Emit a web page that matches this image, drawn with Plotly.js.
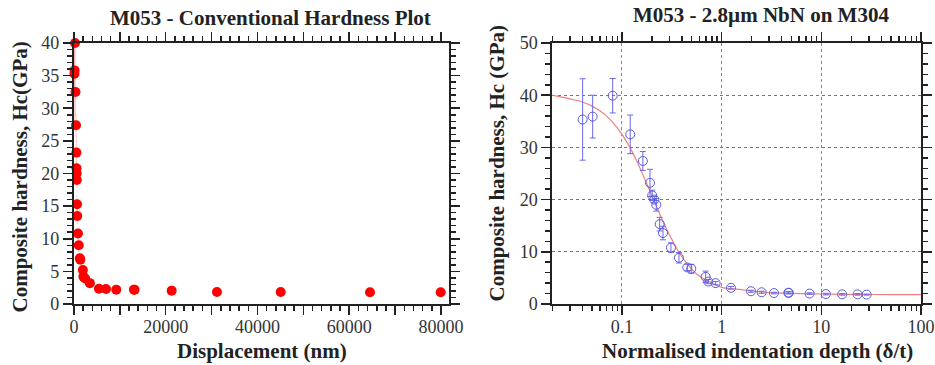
<!DOCTYPE html>
<html><head><meta charset="utf-8">
<script src="https://cdn.plot.ly/plotly-3.0.1.min.js"></script>
<style>html,body{margin:0;padding:0;background:#fff}#plot{width:935px;height:365px}</style>
</head><body><div id="plot"></div>
<script>
// Left panel: displacement (nm) vs composite hardness
const dispNm = [110, 140, 230, 340, 450, 530, 560, 590, 620, 670, 720, 870, 1040, 1270, 1390, 1940, 2060, 2440, 3470, 5450, 6980, 9220, 13080, 13200, 21300, 31170, 45060, 64530, 79940];
const hcLeft = [35.3, 35.8, 40.0, 32.5, 27.4, 23.2, 20.8, 20.0, 19.0, 15.3, 13.5, 10.8, 9.0, 7.0, 6.8, 5.2, 4.2, 3.9, 3.2, 2.35, 2.3, 2.2, 2.2, 2.2, 2.05, 1.85, 1.85, 1.8, 1.8];
// Right panel: normalised depth vs composite hardness with error bars
const normDepth = [0.0403, 0.0508, 0.0807, 0.121, 0.162, 0.191, 0.201, 0.211, 0.221, 0.239, 0.258, 0.31, 0.373, 0.452, 0.496, 0.691, 0.734, 0.87, 1.24, 1.97, 2.52, 3.35, 4.66, 4.72, 7.63, 11.1, 16.2, 23.1, 28.5];
const hcRight = [35.35, 35.9, 39.9, 32.5, 27.4, 23.2, 20.8, 20.0, 19.0, 15.3, 13.6, 10.8, 8.85, 7.0, 6.75, 5.2, 4.3, 4.0, 3.1, 2.45, 2.25, 2.1, 2.15, 2.15, 2.0, 1.9, 1.85, 1.85, 1.8];
const hcErr = [7.8, 4.1, 3.3, 3.7, 1.8, 2.6, 1.0, 0.6, 1.2, 1.3, 1.3, 0.9, 1.0, 0.6, 0.85, 1.1, 0.4, 0.3, 0.25, 0.2, 0.2, 0.15, 0.2, 0.2, 0.15, 0.15, 0.15, 0.15, 0.1];
// Fitted model curve
const fitX = [0.02, 0.03, 0.04, 0.05, 0.06, 0.07, 0.08, 0.1, 0.12, 0.14, 0.16, 0.18, 0.2, 0.23, 0.26, 0.3, 0.35, 0.4, 0.5, 0.6, 0.8, 1, 1.5, 2, 3, 5, 10, 20, 50, 100];
const fitY = [40.0, 39.3, 38.7, 37.9, 37.0, 36.0, 34.9, 32.5, 30.0, 27.5, 25.0, 22.8, 20.7, 18.0, 15.7, 13.2, 10.8, 9.0, 6.7, 5.3, 4.0, 3.2, 2.8, 2.5, 2.2, 2.05, 1.92, 1.85, 1.8, 1.8];
const leftTicks = [0, 10000, 20000, 30000, 40000, 50000, 60000, 70000, 80000];
const leftTickText = ['0', '', '20000', '', '40000', '', '60000', '', '80000'];

const serif = 'Liberation Serif';
const ink = '#222';
const tickFont = {family: serif, size: 18, color: '#333'};

const traces = [
  {x: dispNm, y: hcLeft, xaxis: 'x', yaxis: 'y', type: 'scatter', mode: 'markers',
   marker: {color: '#ff0000', size: 10}, cliponaxis: false,
   error_y: {type: 'data', array: hcErr, color: 'rgba(240,120,120,0.35)', thickness: 1, width: 0}},
  {x: fitX, y: fitY, xaxis: 'x2', yaxis: 'y2', type: 'scatter', mode: 'lines',
   line: {color: '#f08080', width: 1.2, shape: 'spline'}},
  {x: normDepth, y: hcRight, xaxis: 'x2', yaxis: 'y2', type: 'scatter', mode: 'markers',
   marker: {symbol: 'circle-open', color: '#5a5ae0', size: 9, line: {width: 1}},
   error_y: {type: 'data', array: hcErr, color: '#6a6ae6', thickness: 1, width: 3}}
];

const axBase = {showline: true, linecolor: ink, linewidth: 2, mirror: 'ticks', ticks: 'outside',
  tickcolor: ink, tickwidth: 1.5, ticklen: 9, tickfont: tickFont, zeroline: false, fixedrange: true};

const layout = {
  width: 935, height: 365, margin: {l: 0, r: 0, t: 0, b: 0},
  paper_bgcolor: '#fff', plot_bgcolor: '#fff', showlegend: false,
  xaxis: Object.assign({}, axBase, {domain: [0.0791, 0.4802], range: [0, 81744], ticklabelstandoff: -4,
    tickmode: 'array', tickvals: leftTicks, ticktext: leftTickText, showgrid: false,
    minor: {dtick: 2000, tick0: 0, ticklen: 5, tickcolor: ink, ticks: 'outside', showgrid: false}}),
  yaxis: Object.assign({}, axBase, {domain: [0.1671, 0.8822], range: [0, 40], dtick: 5, showgrid: false,
    minor: {dtick: 1, ticklen: 5, tickcolor: ink, ticks: 'outside', showgrid: false}}),
  xaxis2: Object.assign({}, axBase, {domain: [0.5907, 0.985], type: 'log', anchor: 'y2', ticklabelstandoff: -4,
    range: [Math.log10(0.02), 2], dtick: 1, showgrid: true, gridcolor: '#888', griddash: 'dot', gridwidth: 1,
    minor: {dtick: 'D1', ticklen: 5, tickcolor: ink, ticks: 'outside', showgrid: false}}),
  yaxis2: Object.assign({}, axBase, {domain: [0.1671, 0.8822], anchor: 'x2', range: [0, 50], dtick: 10,
    showgrid: true, gridcolor: '#777', griddash: 'dot', gridwidth: 1,
    minor: {dtick: 2, ticklen: 5, tickcolor: ink, ticks: 'outside', showgrid: false}}),
  annotations: [
    {text: 'M053 - Conventional Hardness Plot', xref: 'paper', yref: 'paper', x: 0.2898, y: 0.9507,
     xanchor: 'center', yanchor: 'middle', showarrow: false, font: {family: serif, size: 21, color: ink, weight: 'bold'}},
    {text: 'M053 - 2.8µm NbN on M304', xref: 'paper', yref: 'paper', x: 0.8139, y: 0.9589,
     xanchor: 'center', yanchor: 'middle', showarrow: false, font: {family: serif, size: 21, color: ink, weight: 'bold'}},
    {text: 'Displacement (nm)', xref: 'paper', yref: 'paper', x: 0.2802, y: 0.038,
     xanchor: 'center', yanchor: 'middle', showarrow: false, font: {family: serif, size: 21, color: ink, weight: 'bold'}},
    {text: 'Normalised indentation depth (δ/t)', xref: 'paper', yref: 'paper', x: 0.8102, y: 0.038,
     xanchor: 'center', yanchor: 'middle', showarrow: false, font: {family: serif, size: 21, color: ink, weight: 'bold'}},
    {text: 'Composite hardness, Hc(GPa)', xref: 'paper', yref: 'paper', x: 0.0214, y: 0.5137, textangle: -90,
     xanchor: 'center', yanchor: 'middle', showarrow: false, font: {family: serif, size: 21, color: ink, weight: 'bold'}},
    {text: 'Composite hardness, Hc (GPa)', xref: 'paper', yref: 'paper', x: 0.5326, y: 0.5548, textangle: -90,
     xanchor: 'center', yanchor: 'middle', showarrow: false, font: {family: serif, size: 21, color: ink, weight: 'bold'}}
  ]
};

Plotly.newPlot('plot', traces, layout, {staticPlot: true, displayModeBar: false});
</script></body></html>
